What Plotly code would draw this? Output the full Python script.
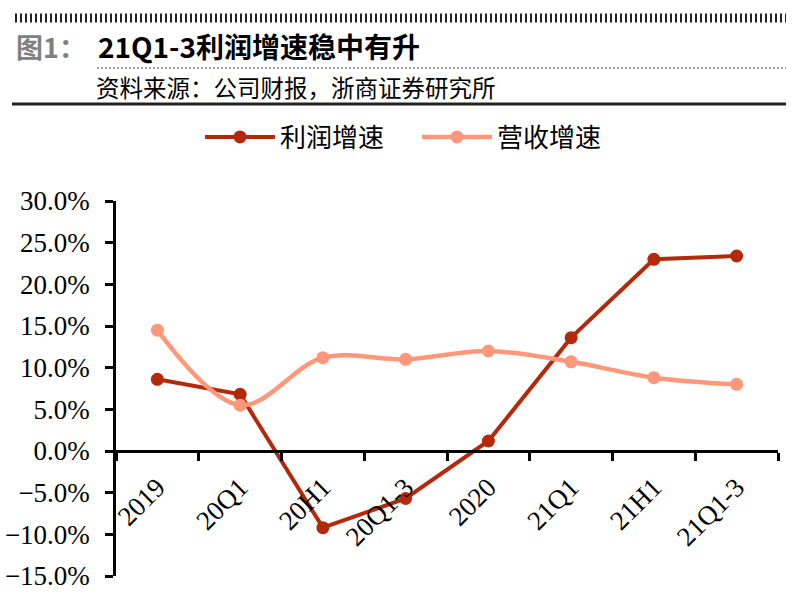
import plotly.graph_objects as go

categories = ["2019", "20Q1", "20H1", "20Q1-3", "2020", "21Q1", "21H1", "21Q1-3"]
profit_growth = [0.086, 0.068, -0.092, -0.057, 0.012, 0.136, 0.230, 0.234]
revenue_growth = [0.145, 0.055, 0.112, 0.110, 0.120, 0.107, 0.088, 0.080]
y_ticks = [0.30, 0.25, 0.20, 0.15, 0.10, 0.05, 0.0, -0.05, -0.10, -0.15]

W, H = 800, 595
L, R, T, B = 116, 22, 201, 19
PW, PH = W - L - R, H - T - B


def px(x):
    return (x - L) / PW


def py(y):
    return (H - B - y) / PH


PROFIT = "#B3290A"
REVENUE = "#FF977A"
SERIF = "Liberation Serif, Times New Roman, Noto Sans CJK SC, serif"
CJK = "Noto Sans CJK SC, sans-serif"

fig = go.Figure()
fig.add_trace(go.Scatter(
    x=categories, y=profit_growth, name="利润增速", mode="lines+markers",
    line=dict(color=PROFIT, width=4), marker=dict(color=PROFIT, size=13),
))
fig.add_trace(go.Scatter(
    x=categories, y=revenue_growth, name="营收增速", mode="lines+markers",
    line=dict(color=REVENUE, width=4.5, shape="spline", smoothing=1.0),
    marker=dict(color=REVENUE, size=13),
))

fig.update_layout(
    width=W, height=H,
    margin=dict(l=L, r=R, t=T, b=B, pad=0, autoexpand=False),
    paper_bgcolor="white", plot_bgcolor="white",
    font=dict(family=SERIF, size=27, color="black"),
    showlegend=True,
    legend=dict(
        orientation="h", x=px(200), y=py(137), xanchor="left", yanchor="middle",
        font=dict(family=CJK, size=26, color="black"),
        itemwidth=70, entrywidth=132, entrywidthmode="pixels",
        tracegroupgap=0, bgcolor="rgba(0,0,0,0)",
    ),
    xaxis=dict(
        type="category", range=[-0.5, 7.5], anchor="free", position=1 / 3,
        showline=True, linecolor="black", linewidth=2.5,
        ticks="outside", ticklen=8, tickwidth=2.5, tickcolor="black",
        tickson="boundaries", tickangle=-45, showgrid=False, zeroline=False,
        ticklabelstandoff=8, automargin=False,
        tickfont=dict(family=SERIF, size=27, color="black"),
    ),
    yaxis=dict(
        range=[-0.15, 0.30], tickvals=y_ticks, tickformat=".1%",
        showline=True, linecolor="black", linewidth=2.5,
        ticks="outside", ticklen=8, tickwidth=2.5, tickcolor="black",
        showgrid=False, zeroline=False, ticklabelstandoff=10, automargin=False,
        tickfont=dict(family=SERIF, size=27, color="black"),
    ),
)

# Header decorations
fig.add_shape(type="line", xref="paper", yref="paper",
              x0=px(15), x1=px(786), y0=py(18), y1=py(18),
              line=dict(color="#222222", width=9, dash="2px,3px"))
fig.add_shape(type="line", xref="paper", yref="paper",
              x0=px(97), x1=px(786), y0=py(68), y1=py(68),
              line=dict(color="#444444", width=1, dash="2px,2px"))
fig.add_shape(type="line", xref="paper", yref="paper",
              x0=px(12), x1=px(786), y0=py(104), y1=py(104),
              line=dict(color="#222222", width=3))

fig.add_annotation(text="<b>图1：</b>", xref="paper", yref="paper",
                   x=px(14), y=py(46), xanchor="left", yanchor="middle",
                   showarrow=False, font=dict(family=CJK, size=27, color="#808080"))
fig.add_annotation(text="<b>21Q1-3利润增速稳中有升</b>", xref="paper", yref="paper",
                   x=px(96), y=py(46), xanchor="left", yanchor="middle",
                   showarrow=False, font=dict(family=CJK, size=28, color="black"))
fig.add_annotation(text="资料来源：公司财报，浙商证券研究所", xref="paper", yref="paper",
                   x=px(94), y=py(87), xanchor="left", yanchor="middle",
                   showarrow=False, font=dict(family=CJK, size=23.5, color="black"))

fig.write_html("out.html")
